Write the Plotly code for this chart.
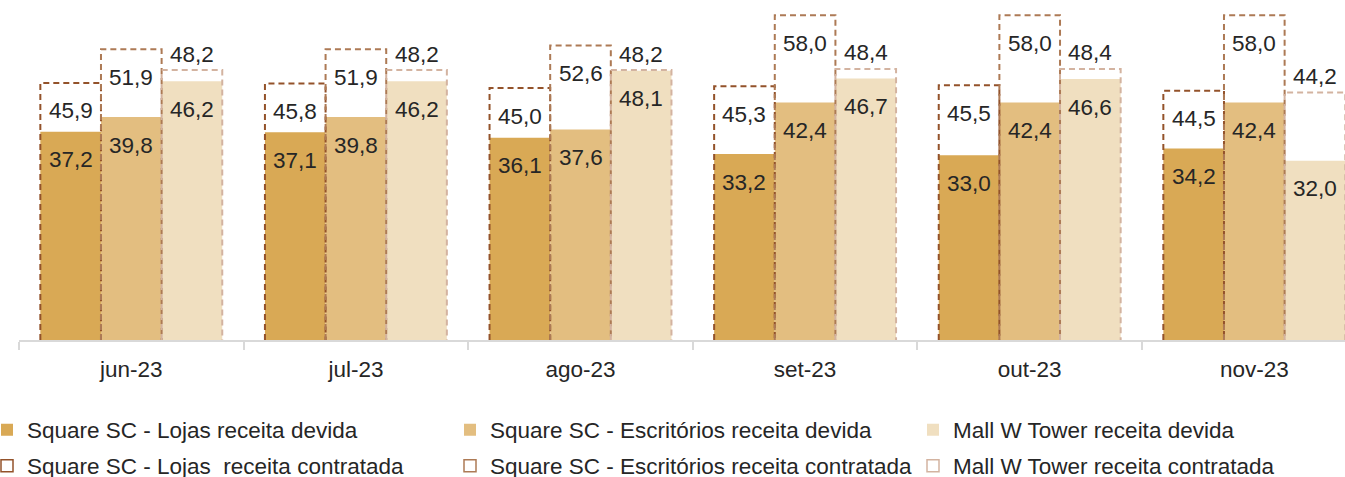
import numpy as np
import plotly.graph_objects as go

# Monthly revenue, R$ (devida = billed, contratada = contracted)
months = ["jun-23", "jul-23", "ago-23", "set-23", "out-23", "nov-23"]
lojas_devida = [37.2, 37.1, 36.1, 33.2, 33.0, 34.2]
escritorios_devida = [39.8, 39.8, 37.6, 42.4, 42.4, 42.4]
mall_devida = [46.2, 46.2, 48.1, 46.7, 46.6, 32.0]
lojas_contratada = [45.9, 45.8, 45.0, 45.3, 45.5, 44.5]
escritorios_contratada = [51.9, 51.9, 52.6, 58.0, 58.0, 58.0]
mall_contratada = [48.2, 48.2, 48.2, 48.4, 48.4, 44.2]

names_devida = [
    "Square SC - Lojas receita devida",
    "Square SC - Escritórios receita devida",
    "Mall W Tower receita devida",
]
names_contratada = [
    "Square SC - Lojas  receita contratada",
    "Square SC - Escritórios receita contratada",
    "Mall W Tower receita contratada",
]

fill_colors = ["#D9A955", "#E3BE80", "#F0DFC0"]
dash_colors = ["#93522A", "#AD7A55", "#D3B3A0"]
TEXT = "#262626"
FONT = "Liberation Sans, Arial, sans-serif"
FS = 22.5

W, H = 1345, 477
L, T, B = 19, 5, 137
PX_PER_UNIT = 5.6
cat_px = 224.6
plot_w = W - L
y_max = (H - T - B) / PX_PER_UNIT

idx = np.arange(len(months))
bar_w = 0.27
offsets = [-bar_w, 0.0, bar_w]

devida = [lojas_devida, escritorios_devida, mall_devida]
contratada = [lojas_contratada, escritorios_contratada, mall_contratada]

fig = go.Figure()

# solid bars: billed revenue
for k in range(3):
    fig.add_trace(go.Bar(
        x=idx + offsets[k], y=devida[k], width=bar_w,
        marker=dict(color=fill_colors[k], line=dict(width=0)),
        name=names_devida[k], legend="legend" if k == 0 else f"legend{k + 1}",
        hoverinfo="skip",
    ))

# dashed outlines: contracted revenue
for k in range(3):
    xs, ys = [], []
    for i, v in zip(idx, contratada[k]):
        x0 = i + offsets[k] - bar_w / 2
        x1 = i + offsets[k] + bar_w / 2
        xs += [x0, x0, x1, x1, None]
        ys += [0, v, v, 0, None]
    fig.add_trace(go.Scatter(
        x=xs, y=ys, mode="lines",
        line=dict(color=dash_colors[k], width=2, dash="6px,4px"),
        showlegend=False, hoverinfo="skip", legendgroup=f"c{k}",
    ))
    # legend swatch for the contracted series
    fig.add_trace(go.Bar(
        x=[None], y=[None], name=names_contratada[k],
        marker=dict(color="white", line=dict(color=dash_colors[k], width=1.5)),
        legend=f"legend{k + 4}", legendgroup=f"c{k}",
    ))

# value labels
annotations = []
for k in range(3):
    for i, v in zip(idx, devida[k]):
        annotations.append(dict(
            x=i + offsets[k], y=v, xref="x", yref="y",
            text=f"{v:.1f}".replace(".", ","), showarrow=False,
            yanchor="middle", yshift=-28,
            font=dict(family=FONT, size=FS, color=TEXT),
        ))
    for i, v in zip(idx, contratada[k]):
        shift = 16 if k == 2 else -28
        annotations.append(dict(
            x=i + offsets[k], y=v, xref="x", yref="y",
            text=f"{v:.1f}".replace(".", ","), showarrow=False,
            yanchor="middle", yshift=shift,
            font=dict(family=FONT, size=FS, color=TEXT),
        ))

legend_cols = [27, 490, 953]
legend_rows = [430, 466]
legend_layouts = {}
for r in range(2):
    for c in range(3):
        n = r * 3 + c + 1
        key = "legend" if n == 1 else f"legend{n}"
        legend_layouts[key] = dict(
            xref="paper", yref="container",
            x=(legend_cols[c] - 40 - L) / plot_w, y=1 - legend_rows[r] / H,
            xanchor="left", yanchor="middle",
            bgcolor="rgba(0,0,0,0)", borderwidth=0,
            font=dict(family=FONT, size=FS, color=TEXT),
            orientation="v",
        )

fig.update_layout(
    width=W, height=H,
    margin=dict(l=L, r=0, t=T, b=B, autoexpand=False),
    paper_bgcolor="white", plot_bgcolor="white",
    barmode="overlay",
    font=dict(family=FONT, size=FS, color=TEXT),
    annotations=annotations,
    xaxis=dict(
        range=[-0.5, -0.5 + plot_w / cat_px],
        tickmode="array", tickvals=idx, ticktext=months,
        ticks="", showgrid=False, zeroline=False,
        showline=True, linecolor="#D9D9D9", linewidth=1.5,
        tickfont=dict(family=FONT, size=FS, color=TEXT),
        ticklabelstandoff=8,
        minor=dict(tickmode="linear", tick0=-0.5, dtick=1,
                   ticks="outside", ticklen=8, tickwidth=1.5,
                   tickcolor="#D9D9D9", showgrid=False),
        fixedrange=True,
    ),
    yaxis=dict(range=[0, y_max], visible=False, fixedrange=True),
    **legend_layouts,
)

fig.write_html("out.html")
